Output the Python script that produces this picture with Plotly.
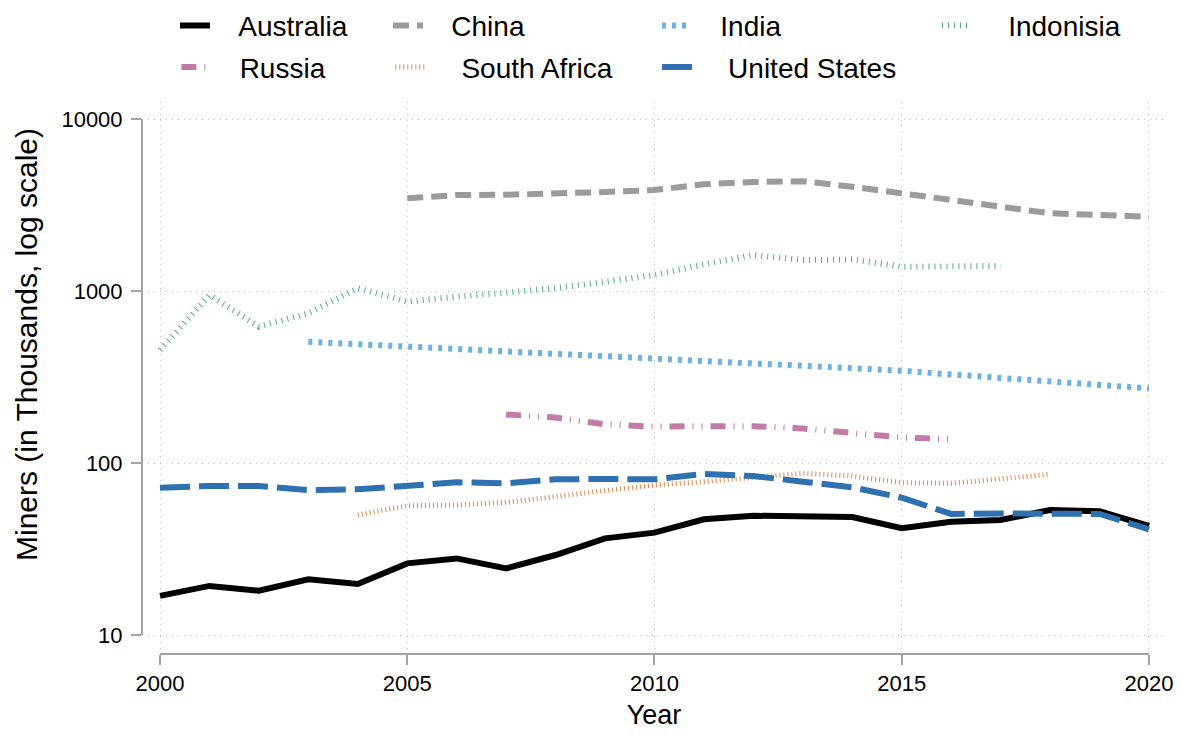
import plotly.graph_objects as go

years = list(range(2000, 2021))

australia = [16.9, 19.3, 18.1, 21.1, 19.8, 26.1, 27.9, 24.4, 29.2, 36.5, 39.4,
             47.1, 49.4, 49.4, 48.6, 41.8, 45.6, 46.7, 53.4, 52.4, 43.1]
china = [None, None, None, None, None, 3470, 3627, 3642, 3676, 3776, 3879,
         4188, 4319, 4360, 4055, 3711, 3393, 3131, 2840, 2775, 2713]
india = [None, None, None, 508, 492, 476, 461, 446, 431, 417, 403,
         391, 378, 367, 356, 345, 328, 313, 299, 285, 272]
indonesia = [455, 950, 622, 744, 1040, 869, 929, 980, 1040, 1136, 1243,
             1434, 1624, 1519, 1533, 1388, 1402, 1402, None, None, None]
russia = [None, None, None, None, None, None, None, 192, 184, 168, 163,
          164, 164, 159, 150, 141, 138, None, None, None, None]
south_africa = [None, None, None, None, 49.9, 56.5, 57.1, 59.2, 63.8, 69.1, 74.6,
                78.0, 82.7, 87.2, 84.1, 76.9, 76.3, 81.5, 86.1, None, None]
united_states = [71.9, 73.6, 73.6, 69.7, 70.4, 73.9, 77.3, 76.3, 80.5, 80.8, 80.5,
                 86.4, 84.1, 78.0, 72.3, 62.9, 50.6, 51.0, 51.0, 50.6, 41.2]

x_ticks = [2000, 2005, 2010, 2015, 2020]
y_ticks = [10, 100, 1000, 10000]

font = "Liberation Sans, Arial, Helvetica, sans-serif"
axis_grey = "#a3a3a3"
NB = "\u00a0"

# name, values, colour, dash, width, legend id, legend x, legend y (paper), gap spaces
series = [
    ("Australia", australia, "#000000", "solid", 6, "legend", 0.0322, 1.138, 3),
    ("China", china, "#9b9b9b", "16px,8px", 6, "legend2", 0.2402, 1.138, 3),
    ("India", india, "#6bb1e3", "4px,6px", 6, "legend3", 0.5029, 1.138, 3),
    ("Indonisia", indonesia, "#5aab88", "1px,5px", 6, "legend4", 0.7764, 1.138, 4),
    ("Russia", russia, "#c07ca6", "15px,8px,1px,8px,1px,8px", 6, "legend5", 0.0335, 1.063, 3),
    ("South Africa", south_africa, "#e0864f", "1px,3px", 5, "legend6", 0.2425, 1.063, 4),
    ("United States", united_states, "#2e70b0", "30px,9px", 6, "legend7", 0.5029, 1.063, 4),
]

fig = go.Figure()
legends = {}
for name, vals, color, dash, width, leg, lx, ly, gap in series:
    fig.add_trace(go.Scatter(x=years, y=vals, name=NB * gap + name, mode="lines",
                             line=dict(color=color, dash=dash, width=width),
                             legend=leg, showlegend=True))
    legends[leg] = dict(x=lx, y=ly, xanchor="left", yanchor="middle",
                        itemwidth=30, bgcolor="rgba(0,0,0,0)", visible=True,
                        font=dict(family=font, size=28, color="#000000"))

fig.update_layout(**legends)

# range-limited axis lines, like the original
fig.add_shape(type="line", xref="x", yref="paper", x0=x_ticks[0], x1=x_ticks[-1],
              y0=0, y1=0, line=dict(color=axis_grey, width=2))
fig.add_shape(type="line", xref="paper", yref="y", x0=0, x1=0,
              y0=y_ticks[0], y1=y_ticks[-1], line=dict(color=axis_grey, width=2))

fig.update_xaxes(range=[1999.636, 2020.344], tickvals=x_ticks,
                 ticks="outside", ticklen=10, tickwidth=2, tickcolor=axis_grey,
                 showline=False, zeroline=False,
                 showgrid=True, gridcolor="#bdbdbd", gridwidth=1, griddash="1px,5px",
                 tickfont=dict(family=font, size=22, color="#000000"),
                 title=dict(text="Year", font=dict(family=font, size=27, color="#000000"),
                            standoff=20))
fig.update_yaxes(type="log", range=[0.8895, 4.1007], tickvals=y_ticks,
                 ticktext=[str(v) for v in y_ticks],
                 ticks="outside", ticklen=10, tickwidth=2, tickcolor=axis_grey,
                 ticklabelstandoff=4,
                 showline=False, zeroline=False,
                 showgrid=True, gridcolor="#bdbdbd", gridwidth=1, griddash="1px,5px",
                 tickfont=dict(family=font, size=22, color="#000000"))

# y title sits a little above the centre of the plot in the original
fig.add_annotation(text="Miners (in Thousands, log scale)", textangle=-90,
                   xref="paper", yref="paper", x=-0.1123, y=0.5598,
                   xanchor="center", yanchor="middle", showarrow=False,
                   font=dict(family=font, size=30, color="#000000"))

# the page adds an 8px body margin, so the figure is drawn 8px smaller
fig.update_layout(width=1170, height=722, showlegend=True,
                  margin=dict(l=134, r=12, t=94, b=76, autoexpand=False),
                  paper_bgcolor="white", plot_bgcolor="white",
                  font=dict(family=font, color="#000000"))

fig.write_html("out.html")
